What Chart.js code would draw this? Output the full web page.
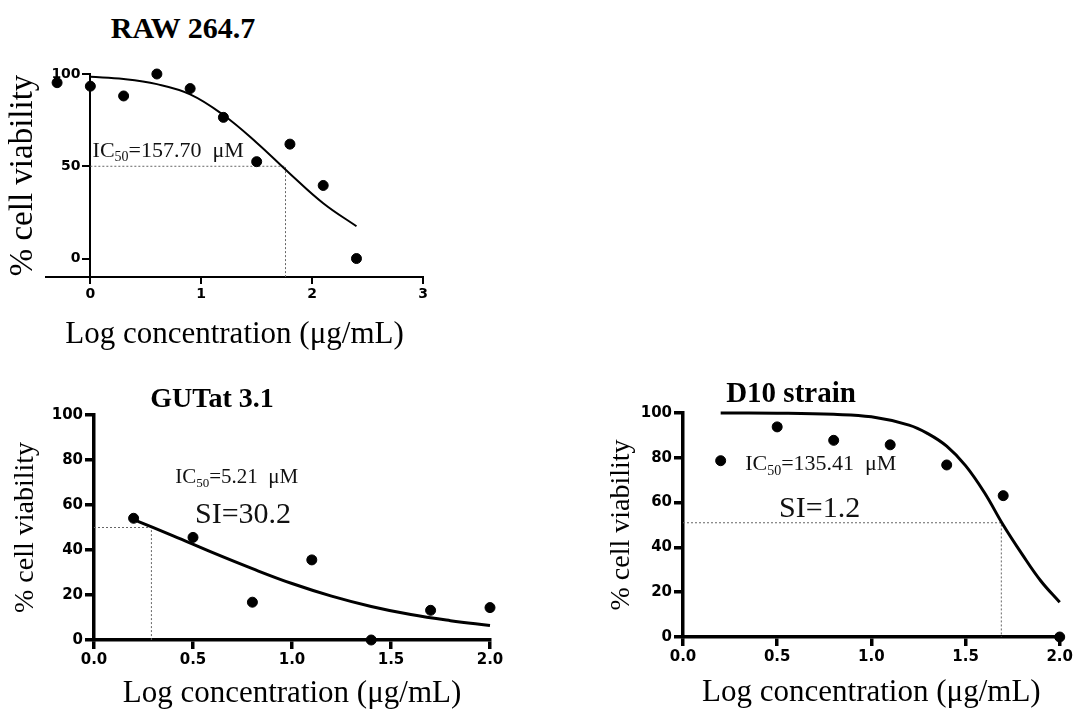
<!DOCTYPE html>
<html>
<head>
<meta charset="utf-8">
<script src="https://cdn.jsdelivr.net/npm/chart.js@4.4.1/dist/chart.umd.min.js"></script>
<style>
  body { margin: 0; background: #fff; }
  #quadro { position: relative; width: 1075px; height: 709px; overflow: hidden; }
  #quadro canvas { position: absolute; }
  .titulo {
    position: absolute; transform: translate(-50%, -50%);
    font-family: "Liberation Serif", "Times New Roman", serif;
    font-weight: bold; line-height: 1; white-space: nowrap; color: #000; z-index: 2;
  }
</style>
</head>
<body>
<div id="quadro">
  <div class="titulo" style="left:183px;top:28px;font-size:30px;">RAW 264.7</div>
  <div class="titulo" style="left:212px;top:398px;font-size:28px;">GUTat 3.1</div>
  <div class="titulo" style="left:791px;top:392px;font-size:29px;">D10 strain</div>
  <canvas id="graficoRaw" width="440" height="300" style="left:0;top:50px"></canvas>
  <canvas id="graficoGut" width="540" height="309" style="left:0;top:400px"></canvas>
  <canvas id="graficoD10" width="485" height="309" style="left:590px;top:400px"></canvas>
</div>
<script>
// RAW 264.7 — pontos medidos e curva ajustada
const logRaw   = [-0.3, 0, 0.3, 0.6, 0.9, 1.2, 1.5, 1.8, 2.1, 2.4];
const viabRaw  = [95.3, 93.4, 88.1, 100, 92.1, 76.5, 52.5, 62, 39.6, 0];
const curvaXRaw = [0, 0.3, 0.6, 0.9, 1.2, 1.5, 1.8, 2.1, 2.4];
const curvaYRaw = [98.5, 97.3, 94.5, 89, 77.8, 62.8, 46, 30, 17.5];
const ic50Raw  = { x: 1.76, y: 50 };
const xTicksRaw = [0, 1, 2, 3];
const yTicksRaw = [0, 50, 100];

// GUTat 3.1
const logGut   = [0.2, 0.5, 0.8, 1.1, 1.4, 1.7, 2.0];
const viabGut  = [54.1, 45.6, 16.8, 35.6, 0, 13.2, 14.4];
const curvaXGut = [0.2, 0.4, 0.6, 0.8, 1.0, 1.2, 1.4, 1.6, 1.8, 2.0];
const curvaYGut = [53.5, 46.3, 38.8, 31.7, 25.1, 19.5, 14.9, 11.3, 8.6, 6.4];
const ic50Gut  = { x: 0.29, y: 50 };

// D10 strain
const logD10   = [0.2, 0.5, 0.8, 1.1, 1.4, 1.7, 2.0];
const viabD10  = [78.7, 93.8, 87.8, 85.8, 76.8, 63.1, 0];
const curvaXD10 = [0.2, 0.5, 0.8, 1.0, 1.2, 1.3, 1.4, 1.5, 1.6, 1.7, 1.8, 1.9, 2.0];
const curvaYD10 = [100, 99.9, 99.4, 98.3, 94.6, 90.8, 85.2, 76.5, 64.5, 50, 37, 25, 15.5];
const ic50D10  = { x: 1.69, y: 51 };

const xTicksMeio = [0, 0.5, 1, 1.5, 2];
const yTicks20   = [0, 20, 40, 60, 80, 100];

const serif = '"Liberation Serif", "Times New Roman", serif';
Chart.defaults.font.family = '"DejaVu Sans", sans-serif';
Chart.defaults.color = '#000';

const pares = (xs, ys) => xs.map((v, i) => ({ x: v, y: ys[i] }));

// texto com subscrito (IC50 / SI) ancorado em coordenadas dos dados
const anotacoes = {
  id: 'anotacoes',
  afterDatasetsDraw(chart, args, opts) {
    const { ctx, scales: { x, y } } = chart;
    (opts.itens || []).forEach(it => {
      let px = x.getPixelForValue(it.x);
      const py = y.getPixelForValue(it.y);
      ctx.save();
      ctx.fillStyle = '#111';
      ctx.textAlign = 'left';
      ctx.textBaseline = 'alphabetic';
      it.partes.forEach(p => {
        const tam = p.sub ? Math.round(it.tam * 0.64) : it.tam;
        ctx.font = tam + 'px ' + serif;
        ctx.fillText(p.t, px, py + (p.sub ? it.tam * 0.2 : 0));
        px += ctx.measureText(p.t).width;
      });
      ctx.restore();
    });
  }
};

function linhaIC(ic, yBase) {
  return {
    data: [{ x: 0, y: ic.y }, { x: ic.x, y: ic.y }, { x: ic.x, y: yBase }],
    showLine: true, pointRadius: 0, borderColor: '#666', borderWidth: 1,
    borderDash: [2, 2], tension: 0, clip: false, order: 3
  };
}

function montar(id, cfg) {
  const fixo = (w, h) => s => { if (w != null) s.width = w; if (h != null) s.height = h; };
  const scales = {
    x: {
      type: 'linear', min: cfg.xMin, max: cfg.xMax,
      afterBuildTicks: s => { s.ticks = cfg.xTicks.map(v => ({ value: v })); },
      afterFit: fixo(null, cfg.xAltura),
      ticks: { font: { size: cfg.tickTam, weight: 'bold' }, padding: 2, maxRotation: 0,
               callback: cfg.xFmt },
      grid: { drawOnChartArea: false, tickLength: cfg.tickLen, color: '#000', lineWidth: cfg.linha },
      border: { color: '#000', width: cfg.linha },
      title: { display: true, text: 'Log concentration (μg/mL)', padding: { top: 0, bottom: cfg.xTitPad },
               font: { family: serif, size: 31, lineHeight: 1 } }
    },
    y: {
      type: 'linear', min: cfg.yMin, max: 100,
      position: cfg.yNoZero ? { x: 0 } : 'left',
      afterBuildTicks: s => { s.ticks = cfg.yTicks.map(v => ({ value: v })); },
      afterFit: fixo(cfg.yNoZero ? 0 : cfg.yLargura, null),
      ticks: { font: { size: cfg.tickTam, weight: 'bold' }, padding: 2,
               callback: v => cfg.yNoZero ? v + '  ' : v },
      grid: { drawOnChartArea: false, tickLength: cfg.tickLen, color: '#000', lineWidth: cfg.linha },
      border: { color: '#000', width: cfg.linha },
      title: { display: !cfg.yNoZero, text: '% cell viability', padding: { top: cfg.yTitPad, bottom: 0 },
               font: { family: serif, size: 28, lineHeight: 1 } }
    }
  };
  if (cfg.yNoZero) {
    // eixo só para o título, à esquerda
    scales.yt = {
      type: 'linear', position: 'left', afterFit: fixo(cfg.yLargura, null),
      ticks: { display: false }, grid: { display: false }, border: { display: false },
      title: { display: true, text: '% cell viability', padding: { top: cfg.yTitPad, bottom: 0 },
               font: { family: serif, size: 33, lineHeight: 1 } }
    };
  }
  return new Chart(document.getElementById(id), {
    type: 'scatter',
    data: {
      datasets: [
        { data: cfg.pontos, backgroundColor: '#000', borderColor: '#000', pointRadius: cfg.raio,
          pointHoverRadius: cfg.raio, clip: false, order: 1 },
        { data: cfg.curva, showLine: true, pointRadius: 0, borderColor: '#000', borderWidth: cfg.curvaW,
          tension: 0.4, clip: false, order: 2 },
        linhaIC(cfg.ic, cfg.yMin)
      ]
    },
    options: {
      responsive: false, animation: false,
      layout: { padding: cfg.padding },
      plugins: { legend: { display: false }, tooltip: { enabled: false }, anotacoes: { itens: cfg.textos } },
      scales
    },
    plugins: [anotacoes]
  });
}

montar('graficoRaw', {
  pontos: pares(logRaw, viabRaw), curva: pares(curvaXRaw, curvaYRaw), ic: ic50Raw,
  xMin: -0.4, xMax: 3, yMin: -10, xTicks: xTicksRaw, yTicks: yTicksRaw, xFmt: v => v,
  yNoZero: true, yLargura: 46, xAltura: 73, padding: { left: 0, top: 24, right: 17, bottom: 0 },
  tickTam: 14, tickLen: 7, linha: 2, raio: 5, curvaW: 2, yTitPad: 7, xTitPad: 0,
  textos: [{ x: 0.02, y: 55, tam: 22, partes: [{ t: 'IC' }, { t: '50', sub: true }, { t: '=157.70  μM' }] }]
});

montar('graficoGut', {
  pontos: pares(logGut, viabGut), curva: pares(curvaXGut, curvaYGut), ic: ic50Gut,
  xMin: 0, xMax: 2, yMin: 0, xTicks: xTicksMeio, yTicks: yTicks20, xFmt: v => v.toFixed(1),
  yNoZero: false, yLargura: 94, xAltura: 69, padding: { left: 0, top: 15, right: 50, bottom: 0 },
  tickTam: 15, tickLen: 9, linha: 3.5, raio: 5, curvaW: 3, yTitPad: 12, xTitPad: 0,
  textos: [
    { x: 0.41, y: 69.8, tam: 21, partes: [{ t: 'IC' }, { t: '50', sub: true }, { t: '=5.21  μM' }] },
    { x: 0.51, y: 52, tam: 30, partes: [{ t: 'SI=30.2' }] }
  ]
});

montar('graficoD10', {
  pontos: pares(logD10, viabD10), curva: pares(curvaXD10, curvaYD10), ic: ic50D10,
  xMin: 0, xMax: 2, yMin: 0, xTicks: xTicksMeio, yTicks: yTicks20, xFmt: v => v.toFixed(1),
  yNoZero: false, yLargura: 93, xAltura: 72, padding: { left: 0, top: 13, right: 15, bottom: 0 },
  tickTam: 15, tickLen: 9, linha: 3.5, raio: 5, curvaW: 3, yTitPad: 18, xTitPad: 1,
  textos: [
    { x: 0.33, y: 74.4, tam: 22, partes: [{ t: 'IC' }, { t: '50', sub: true }, { t: '=135.41  μM' }] },
    { x: 0.51, y: 53.7, tam: 30, partes: [{ t: 'SI=1.2' }] }
  ]
});
</script>
</body>
</html>
